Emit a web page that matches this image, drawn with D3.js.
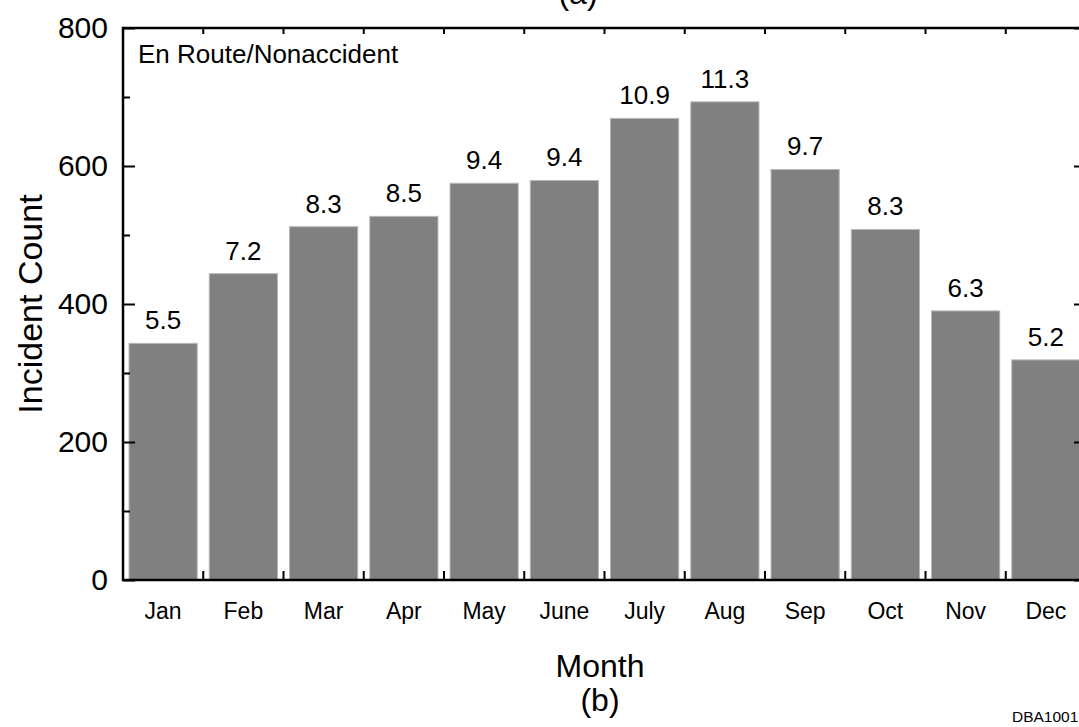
<!DOCTYPE html>
<html>
<head>
<meta charset="utf-8">
<script src="https://cdn.jsdelivr.net/npm/d3@7"></script>
<style>
  body { margin: 0; background: #fff; }
  svg { display: block; font-family: "Liberation Sans", Arial, Helvetica, sans-serif; }
</style>
</head>
<body>
<div id="container"></div>
<script>
/* data */
const months = ["Jan", "Feb", "Mar", "Apr", "May", "June", "July", "Aug", "Sep", "Oct", "Nov", "Dec"];
const counts = [343, 444, 512, 527, 575, 579, 669, 693, 595, 508, 390, 319];
const percents = ["5.5", "7.2", "8.3", "8.5", "9.4", "9.4", "10.9", "11.3", "9.7", "8.3", "6.3", "5.2"];
const majorTicks = [0, 200, 400, 600, 800];
const minorTicks = [100, 300, 500, 700];

const width = 1079, height = 727,
    margin = {top: 28, left: 123, bottom: 147, right: -7}; // right edge runs off the page

const data = months.map((m, i) => ({month: m, count: counts[i], pct: percents[i]}));

const svg = d3.select("#container").append("svg")
    .attr("width", width)
    .attr("height", height);

// scales
const x = d3.scaleBand()
    .domain(months)
    .range([margin.left, width - margin.right])
    .paddingInner(0.15)
    .paddingOuter(0.075);

const y = d3.scaleLinear()
    .domain([0, 800])
    .range([height - margin.bottom, margin.top]);

const x0 = margin.left, x1 = width - margin.right,
    y0 = y(0), y1 = y(800);

// bars
svg.selectAll(".bar")
    .data(data)
    .join("rect")
    .attr("class", "bar")
    .attr("x", d => x(d.month))
    .attr("y", d => y(d.count))
    .attr("width", x.bandwidth())
    .attr("height", d => y(0) - y(d.count))
    .attr("fill", "#808080")
    .attr("stroke", "#b8b8b8")
    .attr("stroke-width", 1);

// percent labels above bars
svg.selectAll(".pct")
    .data(data)
    .join("text")
    .attr("class", "pct")
    .attr("x", d => x(d.month) + x.bandwidth() / 2)
    .attr("y", d => y(d.count) - 14)
    .attr("text-anchor", "middle")
    .attr("font-size", 26)
    .text(d => d.pct);

// left axis (major with labels, inward ticks)
svg.append("g")
    .attr("transform", `translate(${x0},0)`)
    .call(d3.axisLeft(y).tickValues(majorTicks).tickSize(-12).tickPadding(15).tickFormat(d3.format("d")))
    .call(g => g.select(".domain").remove())
    .call(g => g.selectAll("line").attr("stroke", "#000").attr("stroke-width", 2))
    .call(g => g.selectAll("text").attr("font-size", 30).attr("font-family", null).attr("fill", "#000"));

svg.append("g")
    .attr("transform", `translate(${x0},0)`)
    .call(d3.axisLeft(y).tickValues(minorTicks).tickSize(-7).tickFormat(""))
    .call(g => g.select(".domain").remove())
    .call(g => g.selectAll("line").attr("stroke", "#000").attr("stroke-width", 2));

// right axis ticks
svg.append("g")
    .attr("transform", `translate(${x1},0)`)
    .call(d3.axisRight(y).tickValues(majorTicks).tickSize(-12).tickFormat(""))
    .call(g => g.select(".domain").remove())
    .call(g => g.selectAll("line").attr("stroke", "#000").attr("stroke-width", 2));

svg.append("g")
    .attr("transform", `translate(${x1},0)`)
    .call(d3.axisRight(y).tickValues(minorTicks).tickSize(-7).tickFormat(""))
    .call(g => g.select(".domain").remove())
    .call(g => g.selectAll("line").attr("stroke", "#000").attr("stroke-width", 2));

// month labels
svg.append("g")
    .attr("transform", `translate(0,${y0})`)
    .call(d3.axisBottom(x).tickSize(0).tickPadding(23))
    .call(g => g.select(".domain").remove())
    .call(g => g.selectAll("text").attr("font-size", 23).attr("font-family", null).attr("fill", "#000"));

// category boundary ticks, bottom and top
const bounds = months.slice(1).map(m => x(m) - x.step() * x.paddingInner() / 2);
svg.append("g").selectAll("line")
    .data(bounds)
    .join("line")
    .attr("x1", d => d).attr("x2", d => d)
    .attr("y1", y0).attr("y2", y0 - 9)
    .attr("stroke", "#000").attr("stroke-width", 2);
svg.append("g").selectAll("line")
    .data(bounds)
    .join("line")
    .attr("x1", d => d).attr("x2", d => d)
    .attr("y1", y1).attr("y2", y1 + 6)
    .attr("stroke", "#000").attr("stroke-width", 2);

// frame
svg.append("rect")
    .attr("x", x0).attr("y", y1)
    .attr("width", x1 - x0).attr("height", y0 - y1)
    .attr("fill", "none")
    .attr("stroke", "#000")
    .attr("stroke-width", 2.5);

// texts
svg.append("text")
    .attr("x", x0 + 15).attr("y", y1 + 35)
    .attr("font-size", 26)
    .text("En Route/Nonaccident");

svg.append("text")
    .attr("transform", `translate(42,${(y0 + y1) / 2}) rotate(-90)`)
    .attr("text-anchor", "middle")
    .attr("font-size", 34)
    .text("Incident Count");

svg.append("text")
    .attr("x", 600).attr("y", 677)
    .attr("text-anchor", "middle")
    .attr("font-size", 32)
    .text("Month");

svg.append("text")
    .attr("x", 600).attr("y", 711)
    .attr("text-anchor", "middle")
    .attr("font-size", 32)
    .text("(b)");

svg.append("text")
    .attr("x", 578).attr("y", 4)
    .attr("text-anchor", "middle")
    .attr("font-size", 32)
    .text("(a)");

svg.append("text")
    .attr("x", 1012).attr("y", 722)
    .attr("font-size", 15.5)
    .text("DBA1001");
</script>
</body>
</html>
